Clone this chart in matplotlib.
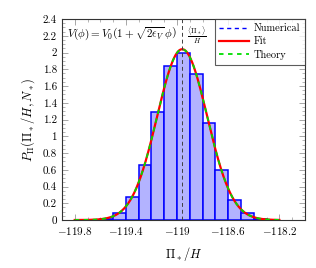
import numpy as np
import matplotlib
matplotlib.use("Agg")
import matplotlib.pyplot as plt
from matplotlib.ticker import MultipleLocator
from matplotlib.lines import Line2D

plt.rcParams['font.family'] = ['cmr10', 'DejaVu Serif']
plt.rcParams['mathtext.fontset'] = 'cm'
plt.rcParams['axes.formatter.use_mathtext'] = True
plt.rcParams['axes.unicode_minus'] = True

# histogram data (bin left edges, width 0.1)
bin_edges = [-119.6, -119.5, -119.4, -119.3, -119.2, -119.1, -119.0,
             -118.9, -118.8, -118.7, -118.6, -118.5, -118.4, -118.3]
bin_heights = [0.015, 0.087, 0.28, 0.66, 1.29, 1.84, 2.0,
               1.74, 1.16, 0.6, 0.235, 0.087, 0.015]

# Gaussian fit / theory parameters
fit_mean = -118.96
fit_sigma = 0.1956
theory_mean = -118.96
theory_sigma = 0.1956
curve_range = [-119.8, -118.2]

x_ticks = [-119.8, -119.4, -119.0, -118.6, -118.2]
x_tick_labels = ['$-119.8$', '$-119.4$', '$-119$', '$-118.6$', '$-118.2$']
y_ticks = [0, 0.2, 0.4, 0.6, 0.8, 1, 1.2, 1.4, 1.6, 1.8, 2, 2.2, 2.4]
y_tick_labels = ['0', '0.2', '0.4', '0.6', '0.8', '1', '1.2', '1.4', '1.6', '1.8', '2', '2.2', '2.4']

fig = plt.figure(figsize=(3.16, 2.68), dpi=100)
ax = fig.add_axes([0.196, 0.179, 0.769, 0.750])

lefts = np.array(bin_edges[:-1])
widths = np.diff(bin_edges)
ax.bar(lefts, bin_heights, width=widths, align='edge',
       facecolor='#b3b3ff', edgecolor='#0000ff', linewidth=1.1, zorder=2)

xs = np.linspace(curve_range[0], curve_range[1], 400)
fit_y = np.exp(-(xs - fit_mean) ** 2 / (2 * fit_sigma ** 2)) / (fit_sigma * np.sqrt(2 * np.pi))
th_y = np.exp(-(xs - theory_mean) ** 2 / (2 * theory_sigma ** 2)) / (theory_sigma * np.sqrt(2 * np.pi))
ax.plot(xs, fit_y, color='#ff0000', lw=1.6, zorder=3)
ax.plot(xs, th_y, color='#00dd00', lw=1.3, ls=(0, (2.5, 2.5)), zorder=4)

ax.axvline(fit_mean, color='#404040', lw=0.7, ls=(0, (4, 3)), zorder=5)
ax.text(fit_mean + 0.04, 2.21, r'$\frac{\langle\Pi_*\rangle}{H}$', fontsize=7.5,
        ha='left', va='center')
ax.text(-119.86, 2.22, r'$V(\phi) = V_0\left(1+\sqrt{2\epsilon_V}\,\phi\right)$',
        fontsize=8, ha='left', va='center')

ax.set_xlim(-119.9, -118.0)
ax.set_ylim(0, 2.4)
ax.set_xticks(x_ticks)
ax.set_xticklabels(x_tick_labels)
ax.set_yticks(y_ticks)
ax.set_yticklabels(y_tick_labels)
ax.xaxis.set_minor_locator(MultipleLocator(0.1))
ax.yaxis.set_minor_locator(MultipleLocator(0.05))
ax.tick_params(which='both', direction='in', top=True, right=True, labelsize=8,
               color='#999999')
ax.tick_params(which='major', length=4, width=0.6)
ax.tick_params(which='minor', length=2, width=0.5)
for s in ax.spines.values():
    s.set_linewidth(0.8)
    s.set_color('#333333')

ax.set_xlabel(r'$\Pi_*/H$', fontsize=9, labelpad=6)
ax.set_ylabel(r'$P_{\Pi}(\Pi_*/H, N_*)$', fontsize=9, labelpad=4)

handles = [Line2D([], [], color='#0000ff', lw=1.0, ls=(0, (3, 2.5))),
           Line2D([], [], color='#ff0000', lw=1.6),
           Line2D([], [], color='#00dd00', lw=1.3, ls=(0, (2.5, 2.5)))]
leg = ax.legend(handles, ['Numerical', 'Fit', 'Theory'], loc='upper right',
                fontsize=7.5, frameon=True, fancybox=False, borderaxespad=0,
                handlelength=2.8, handletextpad=0.5, borderpad=0.45,
                labelspacing=0.35)
leg.get_frame().set_edgecolor('#333333')
leg.get_frame().set_linewidth(0.8)
leg.set_zorder(10)

fig.savefig('out.png', dpi=100)
